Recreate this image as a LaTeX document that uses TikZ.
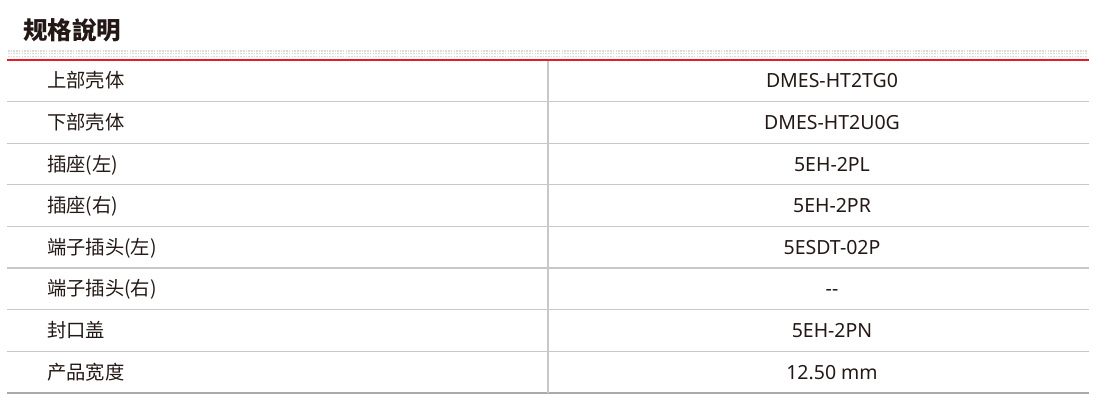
\documentclass[tikz,border=0pt]{standalone}
\usepackage{fontspec}
\setmainfont{Noto Sans}
\newfontfamily\cjk{Noto Sans CJK TC}
\definecolor{txt}{RGB}{35,24,21}
\definecolor{rulegray}{RGB}{200,200,200}
\definecolor{lastgray}{RGB}{170,170,170}
\definecolor{titlered}{RGB}{228,30,36}

\begin{document}
\begin{tikzpicture}[x=1pt,y=-1pt,
  LabelStyle/.style={anchor=base west,inner sep=0pt,text=txt,font=\cjk\fontsize{19.3}{19.3}\selectfont},
  ValueStyle/.style={anchor=base,inner sep=0pt,text=txt,font=\fontsize{19.5}{19.5}\selectfont},
  RowRule/.style={draw=rulegray,line width=1.2pt}]
  \useasboundingbox (0,0) rectangle (1098,404);
  \newcommand{\rowh}{41.6}
  \newcommand{\nopart}{{-}{-}}
  \node[anchor=base west,inner sep=0pt,text=txt,font=\cjk\bfseries\fontsize{24.5}{24.5}\selectfont] (title) at (23,40) {规格說明};
  % dotted band
  \foreach \y in {51,53.6,56.2}
    \draw[gray!30,line width=1.3pt,dash pattern=on 1.6pt off 1.1pt] (8,\y) -- (1088,\y);
  \foreach \lab/\val [count=\i] in {上部壳体/DMES-HT2TG0,下部壳体/DMES-HT2U0G,插座(左)/5EH-2PL,插座(右)/5EH-2PR,
      端子插头(左)/5ESDT-02P,端子插头(右)/\nopart,封口盖/5EH-2PN,产品宽度/12.50 mm}{
    \node[LabelStyle] (label\i) at (47,{60+\rowh*(\i-0.5)+7}) {\lab};
    \node[ValueStyle] (value\i) at (832,{60+\rowh*(\i-0.5)+7}) {\val};
    \ifnum\i<8
      \draw[RowRule] (7,{60+\rowh*\i}) -- (1089,{60+\rowh*\i});
    \fi
  }
  \draw[draw=lastgray,line width=1.2pt] (7,393) -- (1089,393);
  \draw[RowRule] (548,60) -- (548,393);
  \draw[titlered,line width=2pt] (7,60) -- (1089,60);
\end{tikzpicture}
\end{document}
